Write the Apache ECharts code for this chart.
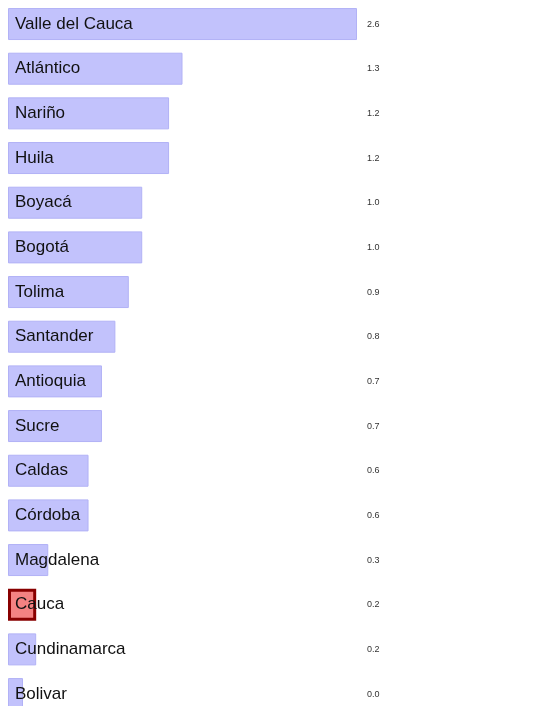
<!DOCTYPE html>
<html>
<head>
<meta charset="utf-8">
<script src="https://cdn.jsdelivr.net/npm/echarts@6/dist/echarts.min.js"></script>
<style>
html,body{margin:0;padding:0;background:#fff;overflow:hidden;}
#chart{width:545px;height:717px;}
</style>
</head>
<body>
<div id="chart"></div>
<script>
var categories = ["Valle del Cauca","Atlántico","Nariño","Huila","Boyacá","Bogotá","Tolima","Santander","Antioquia","Sucre","Caldas","Córdoba","Magdalena","Cauca","Cundinamarca","Bolivar"];
var values = [2.6,1.3,1.2,1.2,1.0,1.0,0.9,0.8,0.7,0.7,0.6,0.6,0.3,0.21,0.21,0.04];
var highlighted = "Cauca";
var valueLabels = values.map(function(v){ return v.toFixed(1); });

var chart = echarts.init(document.getElementById('chart'), null, {renderer:'canvas'});
var data = values.map(function(v, i){
  if (categories[i] === highlighted) {
    return {value: v, itemStyle: {color: '#f48282', borderColor: '#880000', borderWidth: 3}};
  }
  return v;
});
chart.setOption({
  animation: false,
  grid: {left: 8, right: 188, top: 1.7, bottom: 0.6, containLabel: false},
  xAxis: {type: 'value', min: 0, max: 2.6, show: false},
  yAxis: [
    {type: 'category', data: categories, inverse: true, show: false},
    {type: 'category', data: valueLabels, inverse: true, position: 'right',
     axisLine: {show: false}, axisTick: {show: false},
     axisLabel: {margin: 10, color: '#333', fontSize: 9, fontFamily: 'Liberation Sans, Arial, sans-serif', align: 'left'}}
  ],
  series: [{
    type: 'bar',
    data: data,
    barWidth: 32,
    barMinHeight: 15,
    itemStyle: {color: '#c2c2fc', borderColor: '#b2b2f6', borderWidth: 1},
    label: {
      show: true, position: 'insideLeft', distance: 7,
      formatter: function(p){ return p.name; },
      color: '#111', fontSize: 17, fontFamily: 'Liberation Sans, Arial, sans-serif'
    }
  }]
});
</script>
</body>
</html>
